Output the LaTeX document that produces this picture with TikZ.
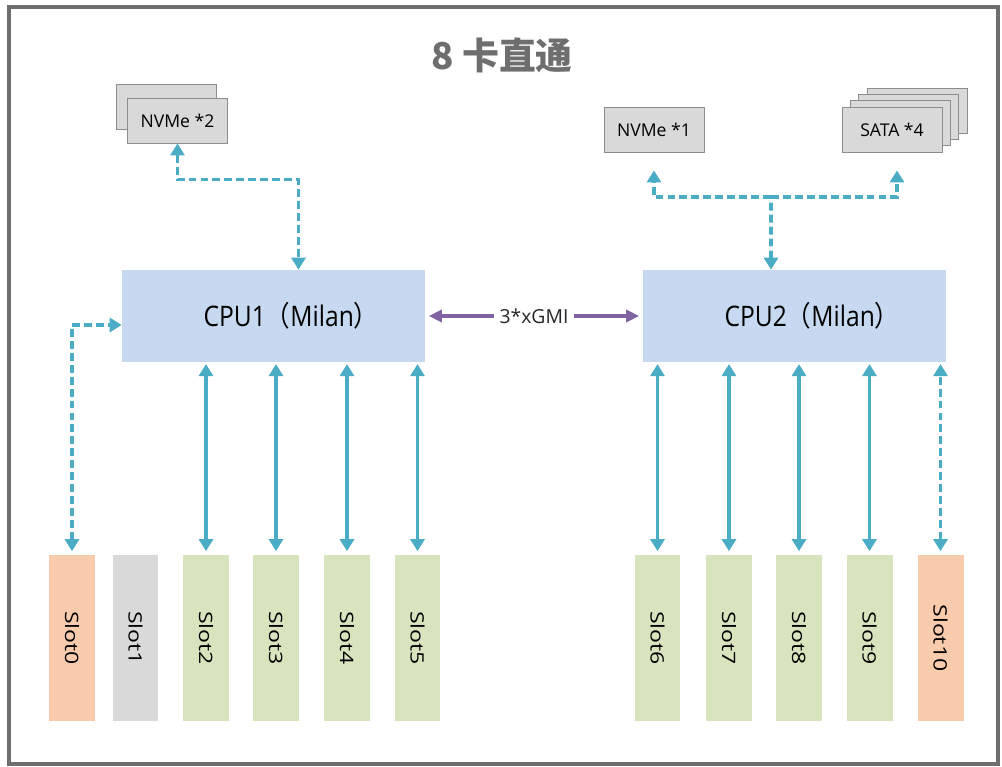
\documentclass[tikz,border=0pt]{standalone}
\usepackage{fontspec}
\setmainfont{Open Sans}
\newfontfamily\cjk{Noto Sans CJK SC}
\usepackage{tikz}
\usetikzlibrary{arrows.meta}
\usetikzlibrary{positioning}
\definecolor{linkblue}{RGB}{75,172,198}
\definecolor{gmipurple}{RGB}{128,100,162}
\definecolor{cpublue}{RGB}{198,217,240}
\definecolor{slotgreen}{RGB}{215,228,189}
\definecolor{slotorange}{RGB}{248,203,173}
\definecolor{slotgray}{RGB}{217,217,217}
\definecolor{diskgray}{RGB}{217,217,217}
\definecolor{framegray}{RGB}{110,110,110}
\begin{document}
\begin{tikzpicture}[x=0.02cm, y=-0.02cm,
    disk/.style={draw=black!45, line width=0.5pt, fill=diskgray, minimum width=2cm, minimum height=0.9cm, inner sep=0pt, font=\fontsize{10}{12}\selectfont},
    cpu/.style={fill=cpublue, minimum width=6.06cm, minimum height=1.84cm, inner sep=0pt, font=\fontsize{14}{17}\selectfont},
    slot/.style={minimum width=0.92cm, minimum height=3.32cm, inner sep=0pt},
    tip/.style={Triangle[length=0.24cm, width=0.28cm]},
    link/.style={linkblue, line width=2.1pt, {Triangle[length=0.24cm, width=0.28cm]}-{Triangle[length=0.24cm, width=0.28cm]}},
    dlink/.style={link, dash pattern=on 4.5pt off 2.3pt},
  ]
  \useasboundingbox (0,0) rectangle (1002,767);
  \draw[framegray, line width=0.08cm] (9,7) rectangle (998,764);
  \node[font=\cjk\bfseries\fontsize{21}{25}\selectfont, text=framegray] (title) at (502,55) {8 卡直通};

  \node[disk] (nvme2b) at (166.5,107) {};
  \node[disk] (nvme2) at (177.5,120.5) {NVMe *2};
  \node[disk] (nvme1) at (654,129.5) {NVMe *1};
  \node[disk] (sata3) at (917,110.9) {};
  \node[disk] (sata2) at (908.6,117.1) {};
  \node[disk] (sata1) at (900.3,123.3) {};
  \node[disk] (sata) at (892,129.5) {SATA *4};

  \node[cpu] (cpu1) at (273.5,316) {\hspace*{0.7cm}\scalebox{1}[1.15]{CPU1{\cjk （}Milan{\cjk ）}}};
  \node[cpu] (cpu2) at (794.5,316) {\hspace*{0.7cm}\scalebox{1}[1.15]{CPU2{\cjk （}Milan{\cjk ）}}};

  \foreach \i/\x/\c in {0/72/slotorange, 1/135.5/slotgray, 2/206/slotgreen, 3/276/slotgreen, 4/347/slotgreen, 5/417.5/slotgreen,
                        6/657.5/slotgreen, 7/729/slotgreen, 8/799/slotgreen, 9/869.5/slotgreen, 10/940.5/slotorange}
    \node[slot, fill=\c] (s\i) at (\x,638) {\rotatebox{-90}{\scalebox{1.25}[1]{\fontsize{10.5}{12}\selectfont Slot\i}}};

  \foreach \i in {2,3,4,5}
    \draw[link, shorten <=2pt, shorten >=1pt] (s\i.north) -- (s\i.north |- cpu1.south);
  \foreach \i in {6,7,8,9}
    \draw[link, shorten <=2pt, shorten >=1pt] (s\i.north) -- (s\i.north |- cpu2.south);
  \draw[dlink, shorten <=2pt, shorten >=1pt] (s10.north) -- (s10.north |- cpu2.south);
  \draw[dlink, shorten <=2pt] (s0.north) |- ([yshift=-0.18cm]cpu1.west);

  \draw[dlink] (nvme2.south) -- ++(0,36) -| ([xshift=0.5cm]cpu1.north);

  \coordinate (tee) at (771,197);
  \draw[dlink, {Triangle[length=0.24cm, width=0.28cm]}-] ([xshift=-0.47cm]cpu2.north) -- (tee);
  \draw[dlink, -{Triangle[length=0.24cm, width=0.28cm]}] (tee) -| ([yshift=-0.36cm]nvme1.south);
  \draw[dlink, -{Triangle[length=0.24cm, width=0.28cm]}] (tee) -| ([xshift=0.1cm, yshift=-0.36cm]sata.south);

  \draw[gmipurple, line width=2.1pt, {Triangle[length=0.26cm, width=0.24cm]}-{Triangle[length=0.26cm, width=0.24cm]}, shorten <=2pt, shorten >=2pt]
    (cpu1.east) -- (cpu2.west) node[midway, fill=white, text=black!85, inner xsep=3pt, font=\fontsize{11}{13}\selectfont] (xgmi) {3*xGMI};
\end{tikzpicture}
\end{document}
